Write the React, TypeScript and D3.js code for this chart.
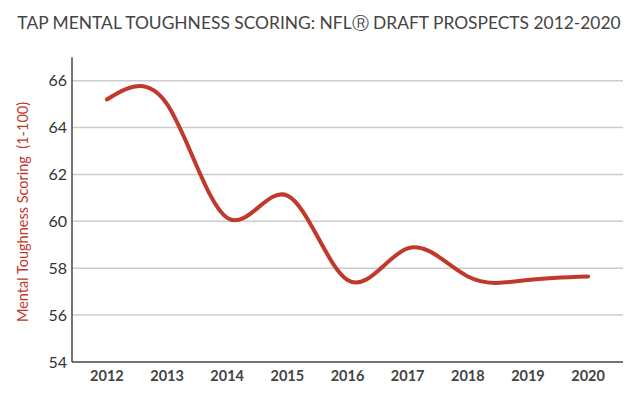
import React from "react";
import * as d3 from "d3";

const years = ["2012", "2013", "2014", "2015", "2016", "2017", "2018", "2019", "2020"];
const scores = [65.2, 65.0, 60.15, 61.1, 57.5, 58.85, 57.65, 57.5, 57.65];
const yTicks = [54, 56, 58, 60, 62, 64, 66];
const title = "TAP MENTAL TOUGHNESS SCORING: NFLⓇ DRAFT PROSPECTS 2012-2020";
const yLabel = "Mental Toughness Scoring  (1-100)";

const W = 638;
const H = 398;
const left = 72;
const right = 623;
const top = 57.3;
const bottom = 362;

export default function App() {
  const x = d3.scalePoint<string>().domain(years).range([left, right]).padding(0.58);
  const y = d3.scaleLinear().domain([54, 67]).range([bottom, top]);
  const line = d3
    .line<number>()
    .x((_, i) => x(years[i]) as number)
    .y((d) => y(d))
    .curve(d3.curveNatural);
  const font = "Lato, 'Open Sans', sans-serif";
  return (
    <svg
      width={W}
      height={H}
      style={{ position: "absolute", left: 0, top: 0, display: "block", background: "#fff" }}
      fontFamily={font}
    >
      <text x={319} y={29} textAnchor="middle" fontSize={17.4} fill="#444">
        {title}
      </text>
      {yTicks.map((t) => (
        <g key={t}>
          {t !== 54 && (
            <line x1={left} x2={right} y1={y(t)} y2={y(t)} stroke="#cccccc" strokeWidth={1.5} />
          )}
          <text x={67} y={y(t)} dy="0.35em" textAnchor="end" fontSize={16} fill="#333">
            {t}
          </text>
        </g>
      ))}
      <line x1={left} x2={left} y1={top} y2={bottom} stroke="#444" strokeWidth={1.5} />
      <line x1={left} x2={right} y1={bottom} y2={bottom} stroke="#444" strokeWidth={1.5} />
      {years.map((yr) => (
        <text
          key={yr}
          x={x(yr)}
          y={376}
          dy="0.35em"
          textAnchor="middle"
          fontSize={14.5}
          fontWeight="bold"
          fill="#444"
        >
          {yr}
        </text>
      ))}
      <text
        transform={`translate(23,${212}) rotate(-90)`}
        textAnchor="middle"
        dy="0.35em"
        fontSize={14.5}
        fill="#c0392b"
        style={{ whiteSpace: "pre" }}
      >
        {yLabel}
      </text>
      <path
        d={line(scores) || ""}
        fill="none"
        stroke="#c0392b"
        strokeWidth={4}
        strokeLinecap="round"
        strokeLinejoin="round"
      />
    </svg>
  );
}
